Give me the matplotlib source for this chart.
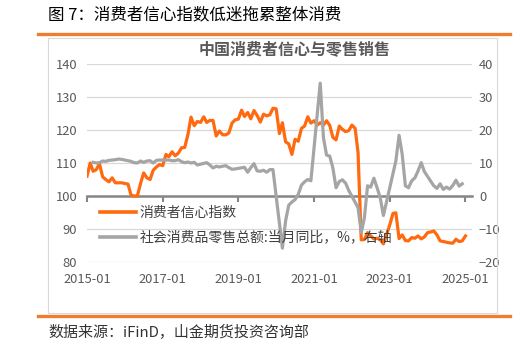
import numpy as np
import pandas as pd
import matplotlib
matplotlib.use("Agg")
import matplotlib.pyplot as plt
import matplotlib.dates as mdates
from matplotlib.lines import Line2D
from matplotlib.patches import Rectangle

plt.rcParams["font.family"] = ["Noto Sans CJK SC", "DejaVu Sans"]

# ---- data -------------------------------------------------------------
# Consumer confidence index, monthly, 2015-01 .. 2025-01 (left axis)
confidence_start = "2015-01-01"
confidence = [
    106.0, 110.0, 107.5, 108.0, 109.8, 105.8, 105.0, 104.3, 105.5, 104.0, 104.0, 104.0,   # 2015
    103.8, 103.6, 100.3, 100.0, 100.0, 103.8, 107.0, 105.5, 105.0, 107.8, 108.8, 109.5,   # 2016
    109.2, 112.6, 111.9, 113.4, 112.2, 113.0, 114.6, 114.7, 118.6, 123.9, 121.3, 122.6,   # 2017
    122.3, 124.0, 122.3, 122.9, 122.9, 118.2, 119.7, 118.6, 118.5, 119.1, 122.1, 123.1,   # 2018
    123.3, 126.0, 124.1, 125.3, 123.4, 125.9, 124.4, 122.4, 124.8, 124.3, 124.6, 126.6,   # 2019
    126.4, 118.9, 122.2, 116.4, 115.8, 112.6, 117.2, 116.6, 120.5, 121.2, 124.0, 122.1,   # 2020
    122.8, 121.5, 122.2, 121.5, 122.8, 121.4, 117.8, 117.0, 121.2, 120.2, 119.5, 119.8,   # 2021
    121.5, 120.5, 113.2, 86.7, 86.8, 88.9, 87.9, 87.0, 87.2, 86.8, 85.5, 88.3,            # 2022
    91.2, 94.7, 94.9, 87.1, 88.2, 86.5, 86.4, 87.4, 87.2, 87.9, 87.0, 87.6,               # 2023
    88.9, 89.1, 89.4, 88.2, 86.4, 86.2, 86.0, 85.8, 85.7, 86.9, 86.2, 86.4,               # 2024
    87.9,                                                                                 # 2025
]

# Retail sales of consumer goods, YoY %, monthly 2015-01 .. 2024-12 (right axis)
# January / February are not published as single months.
retail_start = "2015-01-01"
nan = np.nan
retail_yoy = [
    nan, nan, 10.2, 10.0, 10.1, 10.6, 10.5, 10.8, 10.9, 11.0, 11.2, 11.1,   # 2015
    nan, nan, 10.5, 10.1, 10.0, 10.6, 10.2, 10.6, 10.7, 10.0, 10.8, 10.9,   # 2016
    nan, nan, 10.9, 10.7, 10.7, 11.0, 10.4, 10.1, 10.3, 10.0, 10.2, 9.4,    # 2017
    nan, nan, 10.1, 9.4, 8.5, 9.0, 8.8, 9.0, 9.2, 8.6, 8.1, 8.2,            # 2018
    nan, nan, 8.7, 7.2, 8.6, 9.8, 7.6, 7.5, 7.8, 7.2, 8.0, 8.0,             # 2019
    nan, nan, -15.8, -7.5, -2.8, -1.8, -1.1, 0.5, 3.3, 4.3, 5.0, 4.6,       # 2020
    nan, nan, 34.2, 17.7, 12.4, 12.1, 8.5, 2.5, 4.4, 4.9, 3.9, 1.7,         # 2021
    nan, nan, -3.5, -11.1, -6.7, 3.1, 2.7, 5.4, 2.5, -0.5, -5.9, -1.8,      # 2022
    nan, nan, 10.6, 18.4, 12.7, 3.1, 2.5, 4.6, 5.5, 7.6, 10.1, 7.4,         # 2023
    nan, nan, 3.1, 2.3, 3.7, 2.0, 2.7, 2.1, 3.2, 4.8, 3.0, 3.7,             # 2024
]

x_ticks = ["2015-01", "2017-01", "2019-01", "2021-01", "2023-01", "2025-01"]
left_ticks = [80, 90, 100, 110, 120, 130, 140]
right_ticks = [-20, -10, 0, 10, 20, 30, 40]

label_conf = "消费者信心指数"
label_retail = "社会消费品零售总额:当月同比，%，右轴"

# ---- styling ------------------------------------------------------------
ORANGE = "#FF6A10"
GREY = "#A5A5A5"
BAR = "#ED7D31"
AXIS = "#868686"
TXT = "#595959"

W, H = 532, 342
fig = plt.figure(figsize=(W / 100, H / 100), dpi=100)


def fx(px):
    return px / W


def fy(py):
    return 1 - py / H


conf_dates = pd.date_range(confidence_start, periods=len(confidence), freq="MS")
retail_dates = pd.date_range(retail_start, periods=len(retail_yoy), freq="MS")
conf_x = mdates.date2num(conf_dates)
retail_x = mdates.date2num(retail_dates)
retail_arr = np.array(retail_yoy, dtype=float)
ok = ~np.isnan(retail_arr)
tick_x = mdates.date2num(pd.to_datetime([t + "-01" for t in x_ticks]))

# page decorations
fig.add_artist(Line2D([fx(38), fx(510)], [fy(34), fy(34)], color=BAR, lw=2.4))
fig.add_artist(Line2D([fx(38), fx(510)], [fy(315.5), fy(315.5)], color=BAR, lw=2.4))
fig.add_artist(Rectangle((fx(48), fy(313)), fx(497) - fx(48), fy(38) - fy(313),
                         fill=False, edgecolor="#D9D9D9", lw=0.8, transform=fig.transFigure))
fig.text(fx(48), fy(15), "图 7：消费者信心指数低迷拖累整体消费", ha="left", va="center",
         fontsize=11.9, color="black")
fig.text(fx(48), fy(332), "数据来源：iFinD，山金期货投资咨询部", ha="left", va="center",
         fontsize=10.8, color="#333333")
fig.text(fx(295), fy(49), "中国消费者信心与零售销售", ha="center", va="center",
         fontsize=11.5, fontweight="bold", color=TXT)

# plot area
ax = fig.add_axes([fx(87), fy(262), fx(472) - fx(87), fy(64) - fy(262)])
ax.set_ylim(80, 140)
ax.set_yticks(left_ticks)
ax.set_xlim(conf_x[0], mdates.date2num(pd.Timestamp("2025-03-05")))
ax.grid(axis="y", color="#D9D9D9", lw=0.9)
ax.set_axisbelow(True)
for s in ["top", "right", "left"]:
    ax.spines[s].set_visible(False)
ax.spines["bottom"].set_position(("data", 100))
ax.spines["bottom"].set_color(AXIS)
ax.spines["bottom"].set_linewidth(1.8)
ax.set_xticks(tick_x)
ax.tick_params(axis="x", direction="out", length=4, width=1.5, color=AXIS, labelbottom=False)
ax.tick_params(axis="y", length=0, labelsize=9.3, colors=TXT, pad=7)

ax.plot(conf_x, confidence, color=ORANGE, lw=2.3, solid_joinstyle="round", zorder=3)

sec = ax.secondary_xaxis("bottom")
sec.set_xticks(tick_x, labels=x_ticks)
sec.spines["bottom"].set_visible(False)
sec.tick_params(length=0, labelsize=9.3, colors=TXT, pad=8)

ax2 = ax.twinx()
ax2.set_ylim(-20, 40)
ax2.set_yticks(right_ticks)
for s in ax2.spines.values():
    s.set_visible(False)
ax2.tick_params(axis="y", length=0, labelsize=9.3, colors=TXT, pad=5)
ax2.plot(retail_x[ok], retail_arr[ok], color=GREY, lw=2.3, solid_joinstyle="round")

handles = [Line2D([], [], color=ORANGE, lw=2.6), Line2D([], [], color=GREY, lw=2.6)]
fig.legend(handles, [label_conf, label_retail], loc="upper left",
           bbox_to_anchor=(fx(100), fy(206)), frameon=False, fontsize=10,
           handlelength=2.6, handletextpad=0.25, labelspacing=0.75,
           borderpad=0, borderaxespad=0, labelcolor="#404040")

fig.savefig("out.png", dpi=100)
